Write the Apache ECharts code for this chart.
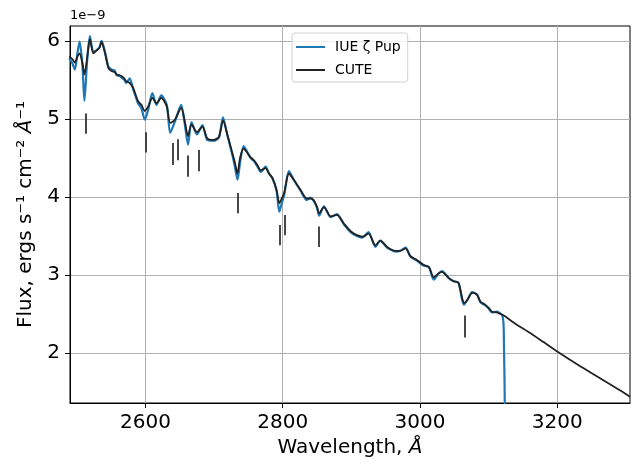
<!DOCTYPE html>
<html>
<head>
<meta charset="utf-8">
<script src="https://cdn.jsdelivr.net/npm/echarts@6/dist/echarts.min.js"></script>
<style>
  html, body { margin: 0; padding: 0; background: #fff; }
  #flux_chart { width: 638px; height: 465px; }
</style>
</head>
<body>
<div id="flux_chart"></div>
<script>
  // wavelength grid, Angstrom
  const wavelength = [2489, 2494, 2497, 2501, 2504, 2508, 2511, 2515, 2519, 2524, 2529, 2533, 2536, 2541, 2546, 2551,
    2555, 2558, 2562, 2565, 2569, 2572, 2577, 2582, 2586, 2589, 2594, 2599, 2604, 2610, 2616, 2623, 2631, 2636, 2643,
    2652, 2657, 2662, 2667, 2675, 2683, 2690, 2699, 2707, 2713, 2719, 2726, 2730, 2734, 2738, 2743, 2748, 2753, 2758,
    2763, 2768, 2775, 2780, 2785, 2791, 2795, 2798, 2802, 2809, 2816, 2826, 2835, 2840, 2845, 2850, 2853, 2860, 2870,
    2879, 2889, 2899, 2908, 2916, 2925, 2935, 2942, 2952, 2959, 2965, 2971, 2979, 2986, 2996, 3005, 3013, 3020, 3027,
    3032, 3042, 3049, 3056, 3061, 3064, 3069, 3076, 3083, 3088, 3095, 3100, 3105, 3112, 3120, 3122, 3124, 3140, 3160,
    3180, 3200, 3230, 3260, 3290, 3306];
  // flux in units of 1e-9
  const cuteFlux = [5.80, 5.76, 5.72, 5.80, 5.84, 5.72, 5.57, 5.78, 6.02, 5.84, 5.88, 5.91, 5.99, 5.84, 5.65, 5.61,
    5.60, 5.57, 5.56, 5.55, 5.52, 5.48, 5.46, 5.40, 5.30, 5.23, 5.18, 5.10, 5.16, 5.27, 5.20, 5.27, 5.16, 4.95, 4.99,
    5.14, 4.98, 4.78, 4.93, 4.83, 4.90, 4.75, 4.73, 4.77, 4.98, 4.81, 4.58, 4.45, 4.30, 4.51, 4.62, 4.57, 4.51, 4.47,
    4.41, 4.34, 4.37, 4.30, 4.24, 4.09, 3.92, 3.97, 4.05, 4.30, 4.22, 4.09, 3.98, 3.98, 3.96, 3.87, 3.79, 3.87, 3.75,
    3.77, 3.66, 3.56, 3.51, 3.49, 3.53, 3.38, 3.44, 3.36, 3.32, 3.31, 3.31, 3.34, 3.24, 3.19, 3.13, 3.10, 2.97, 3.02,
    3.04, 2.96, 2.92, 2.90, 2.72, 2.64, 2.68, 2.77, 2.75, 2.66, 2.62, 2.58, 2.53, 2.52, 2.49, 2.48, 2.47, 2.37, 2.26,
    2.14, 2.02, 1.85, 1.69, 1.53, 1.44];
  const iueFlux = [5.78, 5.70, 5.63, 5.85, 5.99, 5.70, 5.23, 5.75, 6.06, 5.86, 5.88, 5.92, 6.00, 5.86, 5.67, 5.63,
    5.62, 5.56, 5.55, 5.53, 5.50, 5.46, 5.52, 5.38, 5.28, 5.20, 5.14, 4.99, 5.12, 5.33, 5.18, 5.30, 5.18, 4.82, 4.97,
    5.18, 4.95, 4.67, 4.96, 4.80, 4.92, 4.73, 4.72, 4.76, 5.02, 4.80, 4.56, 4.40, 4.22, 4.45, 4.65, 4.58, 4.50, 4.46,
    4.39, 4.32, 4.39, 4.30, 4.24, 4.08, 3.81, 3.90, 4.02, 4.33, 4.22, 4.08, 3.96, 3.99, 3.95, 3.86, 3.76, 3.88, 3.74,
    3.78, 3.65, 3.55, 3.50, 3.48, 3.55, 3.36, 3.44, 3.35, 3.32, 3.30, 3.31, 3.35, 3.24, 3.18, 3.12, 3.10, 2.94, 3.02,
    3.05, 2.96, 2.92, 2.90, 2.70, 2.62, 2.68, 2.78, 2.75, 2.65, 2.61, 2.57, 2.52, 2.53, 2.48, 2.30, 1.00, null, null,
    null, null, null, null, null, null];

  // line identification markers
  const markWl = [2512.6, 2600.5, 2640.3, 2647.3, 2662, 2678, 2734.5, 2795.7, 2803.5, 2853, 3064.5];
  const markTop = [5.07, 4.83, 4.69, 4.74, 4.53, 4.60, 4.05, 3.64, 3.77, 3.62, 2.48];
  const markBottom = [4.81, 4.57, 4.41, 4.47, 4.26, 4.33, 3.79, 3.38, 3.51, 3.36, 2.20];

  const xTicks = [2600, 2800, 3000, 3200];
  const yTicks = [2, 3, 4, 5, 6];

  const font = 'DejaVu Sans';
  const fluxChart = echarts.init(document.getElementById('flux_chart'));
  const option = {
    animation: false,
    textStyle: { fontFamily: font },
    grid: {
      left: 70,
      right: 8,
      top: 26,
      bottom: 62,
      show: true,
      borderColor: '#000',
      borderWidth: 1
    },
    graphic: [
      {
        type: 'text',
        left: 70,
        top: 9,
        style: { text: '1e\u22129', font: '13px "DejaVu Sans"', fill: '#000' }
      }
    ],
    legend: {
      data: ['IUE ζ Pup', 'CUTE'],
      orient: 'vertical',
      left: 292,
      top: 33,
      padding: [7, 7, 5, 4],
      itemGap: 9,
      itemWidth: 29,
      itemHeight: 2,
      icon: 'rect',
      borderColor: '#d0d0d0',
      borderWidth: 1,
      borderRadius: 3,
      backgroundColor: 'rgba(255,255,255,0.8)',
      textStyle: { fontFamily: font, fontSize: 14, color: '#000', padding: [0, 0, 0, 5] }
    },
    xAxis: {
      type: 'value',
      min: 2490,
      max: 3306,
      name: 'Wavelength, {i|Å}',
      nameLocation: 'middle',
      nameGap: 33,
      nameTextStyle: {
        fontFamily: font,
        fontSize: 20,
        color: '#000',
        rich: { i: { fontFamily: font, fontSize: 20, fontStyle: 'italic', color: '#000' } }
      },
      axisLine: { show: true, onZero: false, lineStyle: { color: '#000' } },
      axisTick: { show: true, length: 5, customValues: xTicks, lineStyle: { color: '#000' } },
      axisLabel: {
        customValues: xTicks,
        formatter: function (v) { return String(v); },
        fontFamily: font,
        fontSize: 20,
        color: '#000',
        margin: 10
      },
      splitLine: { show: true, lineStyle: { color: '#b0b0b0', width: 1 } }
    },
    yAxis: {
      type: 'value',
      min: 1.36,
      max: 6.19,
      name: 'Flux, ergs s⁻¹ cm⁻² {i|Å}⁻¹',
      nameLocation: 'middle',
      nameGap: 34,
      nameTextStyle: {
        fontFamily: font,
        fontSize: 20,
        color: '#000',
        rich: { i: { fontFamily: font, fontSize: 20, fontStyle: 'italic', color: '#000' } }
      },
      axisLine: { show: true, onZero: false, lineStyle: { color: '#000' } },
      axisTick: { show: true, length: 5, customValues: yTicks, lineStyle: { color: '#000' } },
      axisLabel: {
        customValues: yTicks,
        formatter: function (v) { return String(v); },
        fontFamily: font,
        fontSize: 20,
        color: '#000',
        margin: 10
      },
      splitLine: { show: true, lineStyle: { color: '#b0b0b0', width: 1 } }
    },
    series: [
      {
        name: 'marks',
        type: 'lines',
        coordinateSystem: 'cartesian2d',
        silent: true,
        z: 1,
        lineStyle: { color: '#333', width: 2, opacity: 0.9 },
        data: markWl.map((w, i) => ({ coords: [[w, markTop[i]], [w, markBottom[i]]] }))
      },
      {
        name: 'IUE ζ Pup',
        type: 'line',
        symbol: 'none',
        smooth: 0.25,
        z: 2,
        color: '#1f77b4',
        lineStyle: { color: '#1f77b4', width: 2.2 },
        data: wavelength.map((w, i) => [w, iueFlux[i]])
      },
      {
        name: 'CUTE',
        type: 'line',
        symbol: 'none',
        smooth: 0.25,
        z: 3,
        color: '#222',
        lineStyle: { color: '#222', width: 1.8 },
        data: wavelength.map((w, i) => [w, cuteFlux[i]])
      }
    ]
  };
  fluxChart.setOption(option);
  window.addEventListener('resize', function () {
    fluxChart.resize();
  });
</script>
</body>
</html>
